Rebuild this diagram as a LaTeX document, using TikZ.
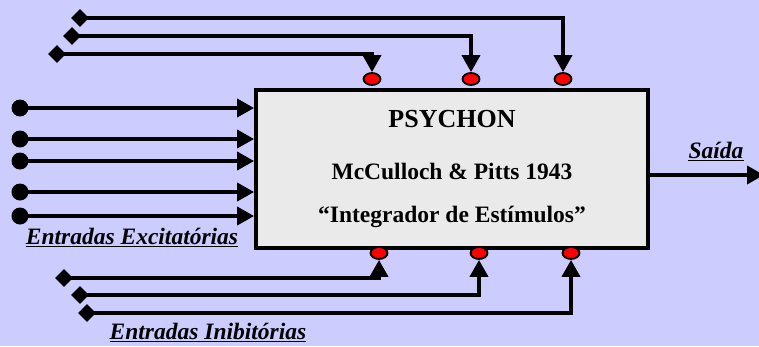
\documentclass[tikz,border=0pt]{standalone}
\usepackage{fontspec}
\setmainfont{Liberation Serif}
\usetikzlibrary{arrows.meta,shapes.geometric}
\definecolor{bgc}{HTML}{CCCCFF}
\definecolor{boxc}{HTML}{EAEAEA}
\tikzset{
  wire/.style={line width=3.8pt},
  arr/.style={wire,-{Triangle[length=17pt,width=18pt]}},
  dia/.style={diamond,fill=black,inner sep=0pt,minimum width=18pt,minimum height=18pt},
  dot/.style={circle,fill=black,inner sep=0pt,minimum size=17pt},
  reddot/.style={ellipse,fill=red,draw=black,line width=1.8pt,inner sep=0pt,minimum width=17pt,minimum height=12pt},
  boxtxt/.style={font=\bfseries\fontsize{23.5}{26}\selectfont,anchor=base,inner sep=0pt},
  lbl/.style={font=\bfseries\itshape\fontsize{23.5}{26}\selectfont,anchor=base,inner sep=0pt},
  uline/.style={line width=1.4pt},
}
\begin{document}
\begin{tikzpicture}[x=1pt,y=-1pt]
\useasboundingbox (0,0) rectangle (759,346);
\fill[bgc] (0,0) rectangle (759,346);
% main box
\node[draw=black,fill=boxc,line width=3.8pt,minimum width=392pt,minimum height=158pt,inner sep=0pt] (psy) at (452,169) {};
\node[boxtxt,font=\bfseries\fontsize{26}{28}\selectfont] (t0) at (452,127) {PSYCHON};
\node[boxtxt] (tm) at (452,179) {McCulloch \& Pitts 1943};
\node[boxtxt] (ti) at (452,222) {“Integrador de Estímulos”};
% top inputs
\node[reddot] (t1) at (372,79) {};
\node[reddot] (t2) at (471,79) {};
\node[reddot] (t3) at (563,79) {};
\node[dia] (d1) at (80,18) {};
\node[dia] (d2) at (72,36) {};
\node[dia] (d3) at (57,54) {};
\draw[arr] (d1.center) -| (t3);
\draw[arr] (d2.center) -| (t2);
\draw[arr] (d3.center) -| (t1);
% bottom inputs
\node[reddot] (b1) at (379,253) {};
\node[reddot] (b2) at (479,253) {};
\node[reddot] (b3) at (571,253) {};
\node[dia] (e1) at (64,278) {};
\node[dia] (e2) at (80,295) {};
\node[dia] (e3) at (87,313) {};
\draw[arr] (e1.center) -| (b1);
\draw[arr] (e2.center) -| (b2);
\draw[arr] (e3.center) -| (b3);
% excitatory inputs
\foreach \i/\yy in {1/108,2/139,3/161,4/192,5/216}{
  \node[dot] (c\i) at (20,\yy) {};
  \draw[arr] (c\i.center) -- (c\i -| psy.west);
}
% output
\coordinate (out) at (764,175);
\draw[arr] (out -| psy.east) -- (out);
% labels
\node[lbl] (le) at (132,244) {Entradas Excitatórias};
\draw[uline] ([yshift=-2.5pt]le.base west) -- ([yshift=-2.5pt]le.base east);
\node[lbl] (li) at (208,339) {Entradas Inibitórias};
\draw[uline] ([yshift=-2.5pt]li.base west) -- ([yshift=-2.5pt]li.base east);
\node[lbl] (ls) at (716,158) {Saída};
\draw[uline] ([yshift=-2.5pt]ls.base west) -- ([yshift=-2.5pt]ls.base east);
\end{tikzpicture}
\end{document}
